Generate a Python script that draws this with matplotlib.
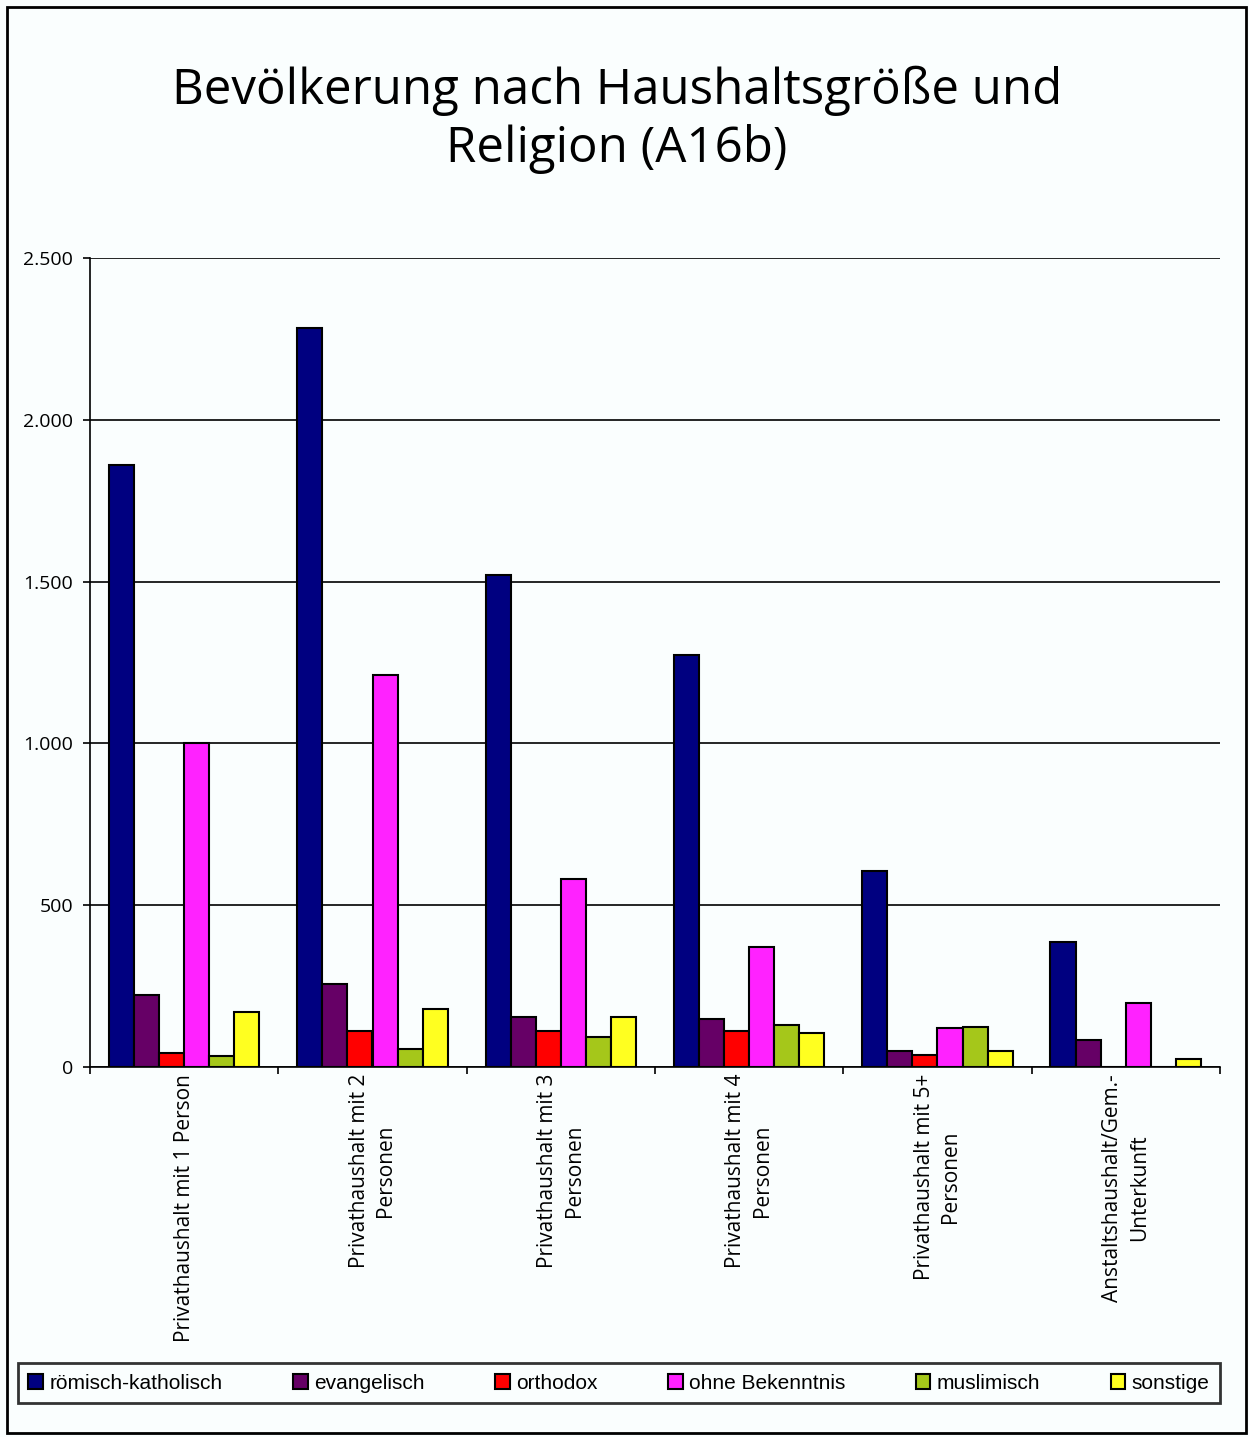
import matplotlib
matplotlib.use("Agg")
import matplotlib.pyplot as plt
import numpy as np
from matplotlib.ticker import FuncFormatter, FixedLocator

categories = [
    "Privathaushalt mit 1 Person",
    "Privathaushalt mit 2\nPersonen",
    "Privathaushalt mit 3\nPersonen",
    "Privathaushalt mit 4\nPersonen",
    "Privathaushalt mit 5+\nPersonen",
    "Anstaltshaushalt/Gem.-\nUnterkunft",
]
series_names = ["römisch-katholisch", "evangelisch", "orthodox",
                "ohne Bekenntnis", "muslimisch", "sonstige"]
katholisch = [1860, 2284, 1520, 1273, 606, 386]
evangelisch = [222, 256, 155, 148, 49, 82]
orthodox = [43, 111, 111, 111, 36, 0]
ohne = [1000, 1211, 581, 370, 120, 198]
muslimisch = [35, 57, 94, 131, 124, 0]
sonstige = [170, 180, 155, 106, 49, 25]
series_values = [katholisch, evangelisch, orthodox, ohne, muslimisch, sonstige]
colors = ["#000080", "#660066", "#FF0000", "#FF22FF", "#A5C71A", "#FFFF20"]
yticks = [0, 500, 1000, 1500, 2000, 2500]

W, H = 1249, 1437
fig = plt.figure(figsize=(W / 100, H / 100), dpi=100)
fig.patch.set_facecolor("#FAFEFE")

# outer border
fig.add_artist(plt.Rectangle((7 / W, 4 / H), (1246 - 7) / W, (1430 - 4) / H,
                             transform=fig.transFigure, fill=False,
                             edgecolor="black", linewidth=2))

ax = fig.add_axes([90 / W, (H - 1067) / H, 1130 / W, 809 / H])
ax.set_facecolor("#FAFEFE")

n = len(series_names)
bw = 0.8 / n
x = np.arange(len(categories))
for i, (name, vals, c) in enumerate(zip(series_names, series_values, colors)):
    ax.bar(x - 0.4 + bw * (i + 0.5), vals, width=bw, color=c,
           edgecolor="black", linewidth=1.5, label=name, zorder=3)

ax.set_xlim(-0.5, len(categories) - 0.5)
ax.set_ylim(0, 2500)
ax.set_yticks(yticks)
ax.yaxis.set_major_formatter(FuncFormatter(lambda v, p: f"{int(v):,}".replace(",", ".")))
ax.grid(axis="y", color="black", linewidth=1.2, zorder=0)
ax.set_axisbelow(True)
for s in ["top", "right"]:
    ax.spines[s].set_visible(False)
for s in ["left", "bottom"]:
    ax.spines[s].set_linewidth(1.2)
ax.tick_params(axis="y", length=5, width=1.2, labelsize=14, pad=7,
               labelfontfamily="Open Sans")

ax.set_xticks(x)
ax.set_xticklabels(categories, rotation=90, ha="center", va="top",
                   fontsize=15, linespacing=1.35, family="Open Sans")
ax.tick_params(axis="x", which="major", length=0, pad=5)
ax.xaxis.set_minor_locator(FixedLocator(np.arange(-0.5, len(categories), 1.0)))
ax.tick_params(axis="x", which="minor", length=5, width=1.2)

fig.text(0.494, 1 - 120 / H, "Bevölkerung nach Haushaltsgröße und\nReligion (A16b)",
         ha="center", va="center", fontsize=35.5, family="Open Sans", linespacing=1.22)

leg = fig.legend(loc="lower left", ncol=6, mode="expand",
                 bbox_to_anchor=(18 / W, (H - 1403) / H, 1202 / W, 40 / H),
                 frameon=True, fancybox=False,
                 prop={"family": ["Liberation Sans Narrow", "Liberation Sans"], "size": 15},
                 handlelength=0.7, handleheight=0.7, handletextpad=0.3,
                 borderaxespad=0, borderpad=0.5)
leg.get_frame().set_edgecolor("black")
leg.get_frame().set_linewidth(2)
leg.get_frame().set_facecolor("#FAFEFE")

fig.savefig("out.png", dpi=100, facecolor=fig.get_facecolor())
